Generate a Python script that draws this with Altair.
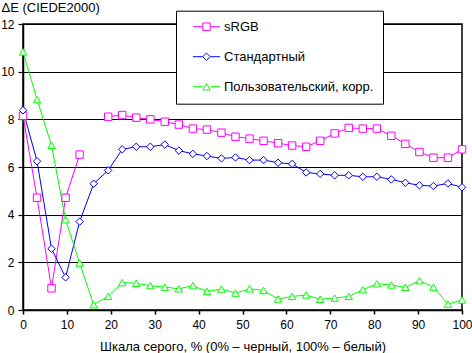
import altair as alt
import pandas as pd

# Gray-scale steps, % (0% – black, 100% – white)
x_vals = [0.0, 3.2, 6.5, 9.7, 12.9, 16.1, 19.4, 22.6, 25.8, 29.0, 32.3, 35.5,
          38.7, 41.9, 45.2, 48.4, 51.6, 54.8, 58.1, 61.3, 64.5, 67.7, 71.0,
          74.2, 77.4, 80.6, 83.9, 87.1, 90.3, 93.5, 96.8, 100.0]

srgb = [8.15, 4.71, 0.91, 4.71, 6.52, None, 8.11, 8.18, 8.07, 8.00, 7.90, 7.78,
        7.61, 7.57, 7.44, 7.27, 7.19, 7.10, 7.00, 6.90, 6.85, 7.10, 7.41,
        7.64, 7.61, 7.61, 7.31, 6.97, 6.63, 6.39, 6.39, 6.74]

standard = [8.38, 6.24, 2.57, 1.37, 3.71, 5.30, 5.86, 6.74, 6.85, 6.85, 6.94, 6.69,
            6.55, 6.46, 6.36, 6.40, 6.29, 6.29, 6.18, 6.13, 5.77, 5.71, 5.65,
            5.65, 5.59, 5.59, 5.48, 5.34, 5.23, 5.20, 5.31, 5.15]

custom = [10.83, 8.83, 6.91, 3.79, 1.97, 0.22, 0.57, 1.15, 1.12, 1.02, 0.96, 0.89,
          1.02, 0.78, 0.88, 0.71, 0.89, 0.82, 0.46, 0.57, 0.63, 0.45, 0.50,
          0.57, 0.85, 1.10, 1.05, 0.95, 1.23, 0.96, 0.25, 0.42]

series_names = ["sRGB", "Стандартный", "Пользовательский, корр."]
series_values = [srgb, standard, custom]
colors = ["#FF00FF", "#0000FF", "#00FF00"]
shapes = ["square", "diamond", "triangle-up"]

x_ticks = [0, 10, 20, 30, 40, 50, 60, 70, 80, 90, 100]
y_ticks = [0, 2, 4, 6, 8, 10, 12]

x_title = "Шкала серого, % (0% – черный, 100% – белый)"
y_title = "ΔE (CIEDE2000)"

rows = []
for name, vals in zip(series_names, series_values):
    seg = 0
    for xv, yv in zip(x_vals, vals):
        if yv is None:
            seg += 1
            continue
        rows.append({"x": xv, "y": yv, "series": name, "seg": f"{name}-{seg}"})
df = pd.DataFrame(rows)

FONT = "Liberation Sans"

x_enc = alt.X(
    "x:Q",
    scale=alt.Scale(domain=[0, 100], nice=False, zero=False),
    axis=alt.Axis(
        values=x_ticks, grid=False, title=x_title,
        tickSize=4, tickWidth=1.5, tickColor="black",
        domainColor="black", domainWidth=1.5,
        labelFontSize=12, labelColor="black", labelFont=FONT, labelPadding=5,
        labelFlush=False, labelOverlap=False,
        titleFontSize=13, titleFontWeight="normal", titleColor="black", titleFont=FONT,
        titleY=40.5, titleBaseline="alphabetic",
    ),
)
y_enc = alt.Y(
    "y:Q",
    scale=alt.Scale(domain=[0, 12], nice=False),
    axis=alt.Axis(
        values=y_ticks, grid=True, gridColor="black", gridWidth=1.2, gridOpacity=1,
        tickSize=5, tickWidth=1.2, tickColor="black",
        domainColor="black", domainWidth=1.5,
        labelFontSize=12, labelColor="black", labelFont=FONT, labelPadding=4,
        labelOverlap=False,
        title=y_title, titleAngle=0, titleAlign="left", titleX=-22, titleY=-13,
        titleBaseline="alphabetic",
        titleFontSize=13, titleFontWeight="normal", titleColor="black", titleFont=FONT,
    ),
)

LX, LY = 153, -13.3

common = dict(
    orient="none", legendX=LX, title=None, direction="vertical",
    padding=9.5, rowPadding=16, symbolOffset=14.5, labelOffset=11,
    labelFontSize=13, labelFont=FONT, labelColor="black", labelLimit=300,
)

line_legend = alt.Legend(
    legendY=LY,
    symbolType="M-3.4,0H-1M1,0H3.4", symbolSize=64, symbolStrokeWidth=1,
    labelExpr="''",
    zindex=2,
    **common,
)
point_legend = alt.Legend(
    legendY=LY,
    symbolSize=55, symbolStrokeWidth=1, symbolFillColor="white",
    fillColor="white", strokeColor="black",
    zindex=1,
    **common,
)

lines = alt.Chart(df).mark_line(strokeWidth=1).encode(
    x=x_enc,
    y=y_enc,
    color=alt.Color("series:N", scale=alt.Scale(domain=series_names, range=colors),
                    legend=line_legend),
    detail="seg:N",
)

points = alt.Chart(df).mark_point(filled=False, fill="white", fillOpacity=1,
                                  size=55, strokeWidth=1, opacity=1).encode(
    x=x_enc,
    y=y_enc,
    color=alt.Color("series:N", scale=alt.Scale(domain=series_names, range=colors),
                    legend=point_legend),
    shape=alt.Shape("series:N", scale=alt.Scale(domain=series_names, range=shapes),
                    legend=point_legend),
)

chart = (
    alt.layer(lines, points)
    .resolve_scale(color="independent", shape="independent")
    .properties(
        width=439, height=286,
        padding={"left": 23, "top": 24, "right": 10, "bottom": 43},
        autosize=alt.AutoSizeParams(type="none"),
        background="white",
    )
    .configure_view(stroke="black", strokeWidth=1.5)
)

chart.save("out.html", embed_options={"renderer": "svg", "actions": False})
